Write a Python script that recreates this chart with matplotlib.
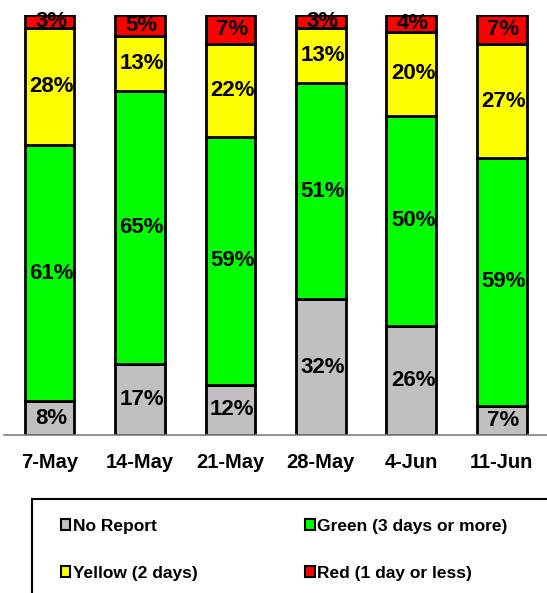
import numpy as np
import matplotlib
matplotlib.use("Agg")
import matplotlib.pyplot as plt
from matplotlib.patches import Rectangle

# data
weeks = ["7-May", "14-May", "21-May", "28-May", "4-Jun", "11-Jun"]
no_report = [8, 17, 12, 32, 26, 7]
green = [61, 65, 59, 51, 50, 59]
yellow = [28, 13, 22, 13, 20, 27]
red = [3, 5, 7, 3, 4, 7]

series = [
    ("No Report", no_report, "#C0C0C0"),
    ("Green (3 days or more)", green, "#00FF00"),
    ("Yellow (2 days)", yellow, "#FFFF00"),
    ("Red (1 day or less)", red, "#FF0000"),
]

plt.rcParams["font.family"] = ["Liberation Sans", "DejaVu Sans"]

fig = plt.figure(figsize=(5.47, 5.93), dpi=100)
ax = fig.add_axes([0.008, 0.2664, 0.992, 0.7083])

# 100% stacked: each column scaled to its own total
totals = np.sum([s[1] for s in series], axis=0).astype(float)
x = np.arange(len(weeks))
bottom = np.zeros(len(weeks))
handles = {}
for name, vals, col in series:
    vals = np.array(vals, dtype=float)
    share = vals / totals * 100
    bars = ax.bar(x, share, 0.55, bottom=bottom, color=col,
                  edgecolor="black", linewidth=2.0, label=name)
    handles[name] = bars
    for xi, b, h, v in zip(x, bottom, share, vals):
        ax.text(xi + 0.02, b + h / 2, f"{int(v)}%", ha="center", va="center",
                fontsize=16, fontweight="bold")
    bottom += share

ax.set_xlim(-0.5, 5.5)
ax.set_ylim(0, 100)
for s in ["top", "left", "right"]:
    ax.spines[s].set_visible(False)
ax.spines["bottom"].set_color("#808080")
ax.spines["bottom"].set_linewidth(1.2)
ax.set_yticks([])
ax.set_xticks(x)
ax.set_xticklabels(weeks, fontsize=14.5, fontweight="bold")
ax.tick_params(axis="x", length=0, pad=13)

# legend box
fig.patches.append(Rectangle((0.058, -0.01), 1.0, 0.169, transform=fig.transFigure,
                             fill=False, edgecolor="black", linewidth=1.5))
order = ["No Report", "Yellow (2 days)", "Green (3 days or more)", "Red (1 day or less)"]
leg = fig.legend([handles[n] for n in order], order, loc="upper left",
                 bbox_to_anchor=(0.098, 0.137), ncol=2, frameon=False,
                 prop={"size": 12.5, "weight": "bold"}, handlelength=0.55,
                 handleheight=0.55, handletextpad=0.15, columnspacing=6.2,
                 labelspacing=1.85, borderaxespad=0)
for h in leg.legend_handles:
    h.set_linewidth(1.5)

fig.savefig("out.png", dpi=100)
